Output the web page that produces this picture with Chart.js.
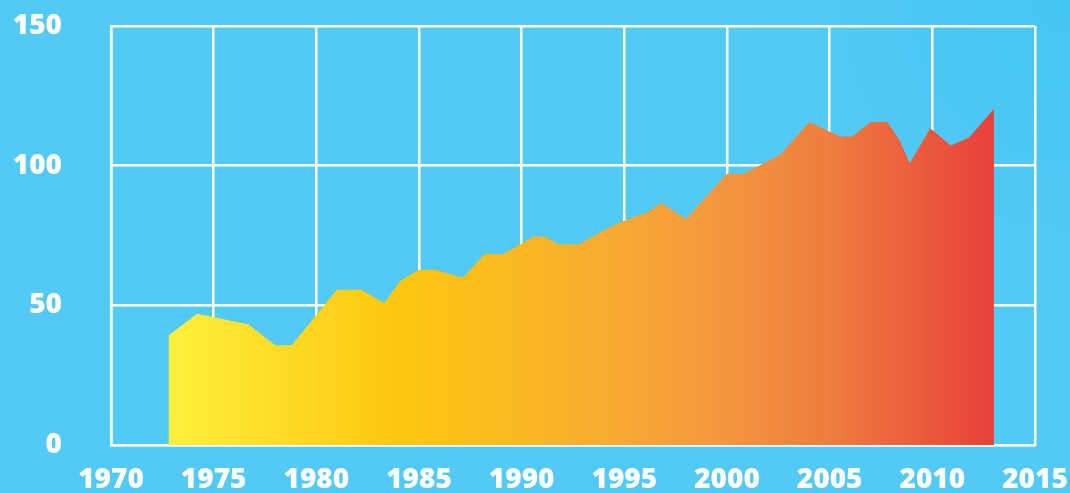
<!DOCTYPE html>
<html>
<head>
<meta charset="utf-8">
<script src="https://cdn.jsdelivr.net/npm/chart.js@4"></script>
<style>
  html, body { margin: 0; padding: 0; }
  body {
    width: 1070px; height: 493px; overflow: hidden;
    background: radial-gradient(circle at 100% 0%, #42c5f3 0px, #53c9f5 240px, #53c9f5 100%);
  }
  canvas { display: block; }
</style>
</head>
<body>
<canvas id="chart" width="1070" height="493"></canvas>
<script>
/* Data */
var years = [1972.8, 1974.2, 1976.7, 1978.0, 1978.8, 1981.0, 1982.2, 1983.3, 1984.1, 1985.0,
  1985.8, 1986.9, 1987.2, 1988.2, 1989.1, 1990.6, 1991.1, 1991.8, 1992.8, 1994.3,
  1995.1, 1996.1, 1996.8, 1998.0, 2000.0, 2000.8, 2002.6, 2004.0, 2005.5, 2006.1,
  2007.0, 2007.8, 2008.4, 2008.9, 2009.9, 2010.9, 2011.8, 2013.0];
var values = [39.2, 47.0, 43.1, 35.7, 35.7, 55.6, 55.6, 50.8, 58.8, 62.7,
  62.7, 60.3, 60.3, 68.4, 68.4, 74.6, 74.6, 71.9, 71.9, 78.0,
  80.6, 83.2, 86.6, 80.9, 97.1, 97.1, 103.9, 115.6, 110.4, 110.4,
  115.6, 115.6, 109.2, 100.9, 113.4, 107.2, 110.2, 120.3];
var xTicks = [1970, 2015, 5];
var yTicks = [0, 150, 50];

var fillStops = [
  [0.00, '#fff03d'],
  [0.28, '#fdc60f'],
  [0.45, '#f9b626'],
  [0.65, '#f59a3e'],
  [0.80, '#ef7d3f'],
  [1.00, '#e8403a']
];

var points = years.map(function(yr, i){ return { x: yr, y: values[i] }; });

var areaFill = function(context){
  var chart = context.chart;
  if (!chart.chartArea) return '#fdc60f';
  var xs = chart.scales.x;
  var x0 = xs.getPixelForValue(years[0]);
  var x1 = xs.getPixelForValue(years[years.length - 1]);
  var g = chart.ctx.createLinearGradient(x0, 0, x1, 0);
  fillStops.forEach(function(s){ g.addColorStop(s[0], s[1]); });
  return g;
};

// no label overhang padding, the layout padding below sets the plot box
var noOverhang = function(s){
  s.paddingTop = 0; s.paddingBottom = 0; s.paddingLeft = 0; s.paddingRight = 0;
};

var tickFont = { family: "'Open Sans', 'DejaVu Sans', sans-serif", weight: 800, size: 28 };

new Chart(document.getElementById('chart'), {
  type: 'line',
  data: {
    datasets: [{
      data: points,
      fill: 'origin',
      backgroundColor: areaFill,
      borderWidth: 0,
      pointRadius: 0,
      tension: 0
    }]
  },
  options: {
    responsive: false,
    animation: false,
    devicePixelRatio: 1,
    layout: { autoPadding: false, padding: { top: 26, right: 35, left: 0, bottom: 0 } },
    plugins: { legend: { display: false }, tooltip: { enabled: false } },
    scales: {
      x: {
        type: 'linear',
        min: xTicks[0], max: xTicks[1],
        z: 1,
        afterFit: function(s){ s.height = 48; noOverhang(s); },
        grid: { color: '#ffffff', lineWidth: 2.5, drawTicks: false },
        border: { color: '#ffffff', width: 2.5 },
        ticks: { stepSize: xTicks[2], color: '#ffffff', font: tickFont, padding: 18, maxRotation: 0,
          callback: function(v){ return String(v); } }
      },
      y: {
        min: yTicks[0], max: yTicks[1],
        z: 1,
        afterFit: function(s){ s.width = 111; noOverhang(s); },
        grid: { color: '#ffffff', lineWidth: 2.5, drawTicks: false },
        border: { color: '#ffffff', width: 2.5 },
        ticks: { stepSize: yTicks[2], color: '#ffffff', font: tickFont, padding: 49 }
      }
    }
  }
});
</script>
</body>
</html>
